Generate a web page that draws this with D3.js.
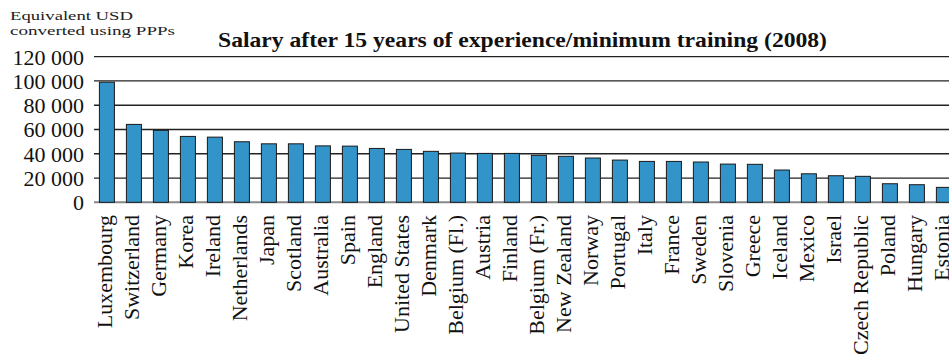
<!DOCTYPE html>
<html><head><meta charset="utf-8">
<script src="https://cdn.jsdelivr.net/npm/d3@7/dist/d3.min.js"></script>
<style>body{margin:0;background:#fff}svg{display:block}</style>
</head><body>
<svg id="c" width="949" height="357"></svg>
<script>
const countries = ["Luxembourg","Switzerland","Germany","Korea","Ireland","Netherlands","Japan","Scotland","Australia","Spain","England","United States","Denmark","Belgium (Fl.)","Austria","Finland","Belgium (Fr.)","New Zealand","Norway","Portugal","Italy","France","Sweden","Slovenia","Greece","Iceland","Mexico","Israel","Czech Republic","Poland","Hungary","Estonia"];
const salaries = [99000,64200,59300,54300,53700,49900,48200,48200,46500,46300,44400,43600,42000,40600,40300,40300,38700,37900,36500,34800,33700,33700,33200,31500,31300,26600,23500,21900,21400,15300,14500,12300];
const yTicks = [0,20000,40000,60000,80000,100000,120000];
const titleText = "Salary after 15 years of experience/minimum training (2008)";
const unitLines = ["Equivalent USD","converted using PPPs"];

const svg = d3.select("#c");
const font = "'Liberation Serif', 'Times New Roman', serif";
const x = d3.scaleBand().domain(countries).range([94, 956.8]).paddingInner(0.444).paddingOuter(0.2);
const y = d3.scaleLinear().domain([0,120000]).range([202.3, 56.7]);
const fmt = v => d3.format(",")(v).replace(/,/g, " ");

// gridlines
svg.append("g").selectAll("line").data(yTicks).join("line")
  .attr("x1", 94).attr("x2", 949)
  .attr("y1", d => y(d)).attr("y2", d => y(d))
  .attr("stroke", d => d === 0 ? "#888" : "#222").attr("stroke-width", d => d === 0 ? 2 : 1.3);

// y axis labels
const yAxis = d3.axisLeft(y).tickValues(yTicks).tickFormat(fmt).tickSize(0).tickPadding(0);
const ya = svg.append("g").attr("transform", "translate(84,0)").call(yAxis);
ya.select(".domain").remove();
ya.selectAll("text").attr("font-family", font).attr("font-size", 22).attr("fill", "#111").attr("dy", "0.34em");

// bars
svg.append("g").selectAll("rect").data(countries).join("rect")
  .attr("x", d => x(d)).attr("width", x.bandwidth())
  .attr("y", (d,i) => y(salaries[i])).attr("height", (d,i) => y(0) - y(salaries[i]))
  .attr("fill", "#3394c9").attr("stroke", "#1a1a1a").attr("stroke-width", 1);

// x labels
const xAxis = d3.axisBottom(x).tickSize(0).tickPadding(0);
const xa = svg.append("g").attr("transform", "translate(-3,215)").call(xAxis);
xa.select(".domain").remove();
xa.selectAll("text").attr("font-family", font).attr("font-size", 22).attr("fill", "#111")
  .attr("text-anchor", "end").attr("transform", "rotate(-90)").attr("x", 0).attr("y", 0).attr("dy", "0.35em");

// title
svg.append("text").attr("x", 218).attr("y", 47).attr("font-family", font).attr("font-weight", "bold")
  .attr("font-size", 21).attr("fill", "#111").attr("textLength", 609).attr("lengthAdjust","spacingAndGlyphs").text(titleText);

// unit label
svg.append("g").selectAll("text").data(unitLines).join("text")
  .attr("x", 10).attr("y", (d,i) => 20 + i*15).attr("font-family", font).attr("font-size", 13.5).attr("fill", "#222")
  .attr("textLength", (d,i) => i === 0 ? 123 : 165).attr("lengthAdjust","spacingAndGlyphs")
  .text(d => d);
</script>
</body></html>
